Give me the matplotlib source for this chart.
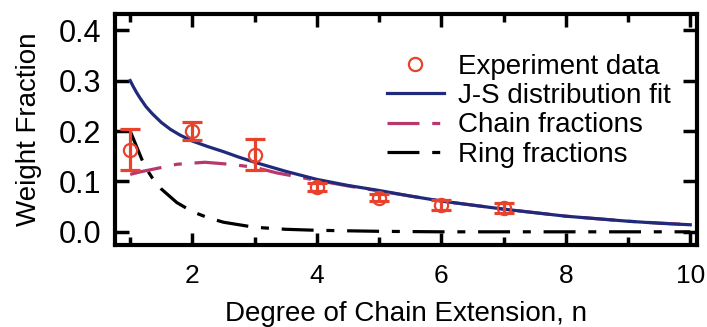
import matplotlib
matplotlib.use("Agg")
import matplotlib.pyplot as plt
from matplotlib.ticker import FixedLocator

plt.rcParams['font.family'] = ['Liberation Sans', 'DejaVu Sans']

# Experimental weight fractions with error bars
exp_n = [1, 2, 3, 4, 5, 6, 7]
exp_w = [0.163, 0.200, 0.153, 0.088, 0.068, 0.054, 0.047]
exp_err = [0.040, 0.018, 0.031, 0.008, 0.007, 0.010, 0.010]

# Jacobson-Stockmayer distribution fit
fit_n = [1.0, 1.05, 1.1, 1.15, 1.2, 1.25, 1.35, 1.5, 1.65, 1.8, 2.0, 2.25, 2.5, 2.75, 3.0,
         3.5, 4.0, 4.5, 5.0, 5.5, 6.0, 6.5, 7.0, 7.5, 8.0, 8.5, 9.0, 9.5, 10.0]
fit_w = [0.300, 0.288, 0.277, 0.267, 0.258, 0.249, 0.235, 0.217, 0.203, 0.192, 0.180, 0.169,
         0.159, 0.148, 0.138, 0.120, 0.104, 0.092, 0.082, 0.071, 0.061, 0.053, 0.045, 0.038,
         0.031, 0.026, 0.021, 0.017, 0.014]

# Chain contribution
chain_n = [1.0, 1.2, 1.4, 1.75, 2.2, 2.6, 3.0, 3.35, 4.0, 4.5, 5.0, 6.0, 7.0, 8.0, 9.0, 10.0]
chain_w = [0.114, 0.120, 0.125, 0.134, 0.138, 0.134, 0.128, 0.117, 0.102, 0.091, 0.081, 0.061,
           0.045, 0.031, 0.021, 0.014]

# Ring contribution
ring_n = [1.0, 1.05, 1.1, 1.15, 1.2, 1.25, 1.35, 1.5, 1.75, 2.0, 2.25, 2.5, 3.0, 3.5, 4.0, 5.0,
          6.0, 7.0, 8.0, 9.0, 10.0]
ring_w = [0.200, 0.185, 0.170, 0.155, 0.140, 0.127, 0.108, 0.085, 0.058, 0.040, 0.028, 0.019,
          0.009, 0.005, 0.003, 0.001, 0.0, 0.0, 0.0, 0.0, 0.0]

fig = plt.figure(figsize=(7.07, 3.27), dpi=100)
ax = fig.add_axes([0.163, 0.251, 0.823, 0.706])

red = '#e8412c'
navy = '#1f2a7a'
pink = '#b8386e'

ax.plot(ring_n, ring_w, color='black', lw=2.3, dashes=(10, 4, 2.5, 4),
        label='Ring fractions', zorder=2)
ax.plot(chain_n, chain_w, color=pink, lw=2.3, dashes=(10, 4, 2.5, 4),
        label='Chain fractions', zorder=3)
ax.plot(fit_n, fit_w, color=navy, lw=2.3, label='J-S distribution fit', zorder=4)
ax.errorbar(exp_n, exp_w, yerr=exp_err, fmt='none', ecolor=red, elinewidth=2.3,
            capsize=7, capthick=2.3, zorder=5)
ax.plot(exp_n, exp_w, 'o', ms=9.5, mfc='none', mec=red, mew=1.6,
        label='Experiment data', zorder=6)

ax.set_xlim(0.76, 10.11)
ax.set_ylim(-0.026, 0.432)

ax.xaxis.set_major_locator(FixedLocator([2, 4, 6, 8, 10]))
ax.xaxis.set_minor_locator(FixedLocator([1, 3, 5, 7, 9]))
ax.yaxis.set_major_locator(FixedLocator([0.0, 0.1, 0.2, 0.3, 0.4]))
ax.set_xticklabels(['2', '4', '6', '8', '10'])
ax.set_yticklabels(['0.0', '0.1', '0.2', '0.3', '0.4'])

ax.tick_params(which='both', direction='in', top=True, right=True, width=2.5, color='black')
ax.tick_params(axis='x', which='major', length=9, pad=14, labelsize=19)
ax.tick_params(axis='y', which='major', length=10, labelsize=22, pad=10)
ax.tick_params(which='minor', length=6)

for s in ax.spines.values():
    s.set_linewidth(3)

ax.set_xlabel('Degree of Chain Extension, n', fontsize=20, labelpad=9)
ax.set_ylabel('Weight Fraction', fontsize=20, labelpad=12)

handles, labels = ax.get_legend_handles_labels()
order = [3, 2, 1, 0]
ax.legend([handles[i] for i in order], [labels[i] for i in order],
          loc='upper left', bbox_to_anchor=(0.467, 0.828), frameon=False,
          fontsize=20, handlelength=2.05, handletextpad=0.5, labelspacing=0.12,
          borderpad=0, borderaxespad=0)

fig.savefig('out.png', dpi=100)
